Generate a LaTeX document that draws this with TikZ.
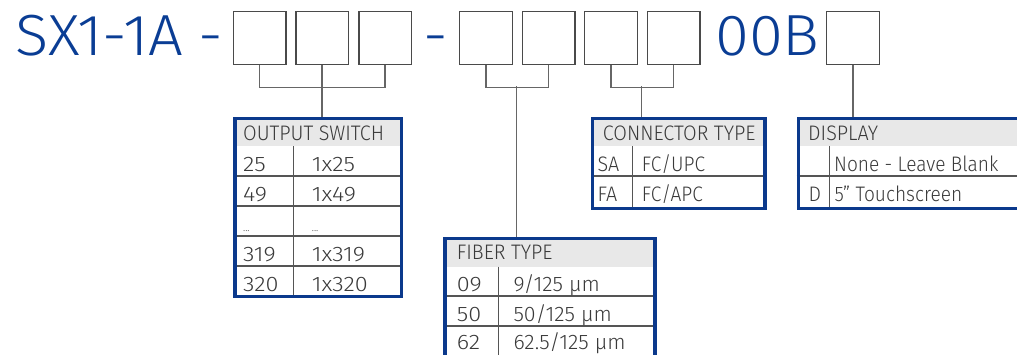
\documentclass[tikz,border=0pt]{standalone}
\usepackage{fontspec}
\setmainfont{Fira Sans Light}
\newfontfamily\titlefont{Fira Sans Light}[FakeStretch=1.06]
\newfontfamily\tabfont{Fira Sans Light}[FakeStretch=0.94]
\newfontfamily\bodyfont{Fira Sans Light}[FakeStretch=0.91]
\newfontfamily\numfont{Fira Sans Light}[FakeStretch=1.12]
\newfontfamily\fibfont{Fira Sans Light}[FakeStretch=1.02]
\definecolor{tblue}{HTML}{0A3D94}
\definecolor{fblue}{HTML}{0B398C}
\definecolor{boxgrey}{HTML}{4A4A4A}
\definecolor{cgrey}{HTML}{666666}
\definecolor{lgrey}{HTML}{555555}
\definecolor{hgrey}{HTML}{E8E8E8}
\definecolor{txtgrey}{HTML}{3A3A3A}
\begin{document}
\begin{tikzpicture}[x=1pt,y=-1pt,
  cbox/.style={draw=boxgrey, line width=1.3pt, minimum width=52.5pt, minimum height=53pt, inner sep=0pt, anchor=north west},
  titletxt/.style={text=tblue, font=\titlefont\fontsize{58}{58}\selectfont, inner sep=0pt, anchor=base west},
  ttxt/.style={text=txtgrey, font=\tabfont\fontsize{21}{21}\selectfont, inner sep=0pt, anchor=base west},
  btxt/.style={ttxt, font=\bodyfont\fontsize{21}{21}\selectfont},
  ntxt/.style={ttxt, font=\numfont\fontsize{21}{21}\selectfont},
  ftxt/.style={ttxt, font=\fibfont\fontsize{21}{21}\selectfont},
  dots/.style={text=txtgrey, font=\tabfont\fontsize{11}{11}\selectfont, inner sep=0pt, anchor=base west},
  tframe/.style={draw=fblue, line width=3.3pt, inner sep=0pt, anchor=north west},
  rowline/.style={draw=lgrey, line width=1.2pt},
  conn/.style={draw=cgrey, line width=1.5pt}]
\useasboundingbox (0,0) rectangle (1017,354);
\begin{scope}
\clip (0,0) rectangle (1017,354);
% title
\node[titletxt] (title) at (15,55) {SX1-1A};
\node[titletxt] (dash1) at (198,55) {-};
\node[titletxt] (dash2) at (423.5,55) {-};
\node[titletxt] (suffix) at (715,55) {00B};
% boxes
\node[cbox] (b1) at (232.7,11) {};
\node[cbox] (b2) at (295.3,11) {};
\node[cbox] (b3) at (358.3,11) {};
\node[cbox] (b4) at (459,11) {};
\node[cbox] (b5) at (521.7,11) {};
\node[cbox] (b6) at (584,11) {};
\node[cbox] (b7) at (646.7,11) {};
\node[cbox] (b8) at (826,11) {};

% ---------- OUTPUT SWITCH table
\fill[hgrey] (233.3,116.7) rectangle (400,146);
\foreach \y in {176,206,236,266} \draw[rowline] (233.3,\y) -- (400,\y);
\draw[rowline] (293.3,146) -- (293.3,295);
\node[tframe, minimum width=166.7pt, minimum height=178.3pt] (t1) at (233.3,116.7) {};
\node[ttxt] at (243,140) {OUTPUT SWITCH};
\node[ntxt] at (243,171.7) {25};    \node[ntxt] at (311.7,171.7) {1x25};
\node[ntxt] at (243,201.7) {49};    \node[ntxt] at (311.7,201.7) {1x49};
\node[dots] at (243,231.7) {...}; \node[dots] at (311.7,231.7) {...};
\node[ntxt] at (243,261.7) {319};   \node[ntxt] at (311.7,261.7) {1x319};
\node[ntxt] at (243,291.7) {320};   \node[ntxt] at (311.7,291.7) {1x320};

% ---------- FIBER TYPE table
\fill[hgrey] (443.3,236.7) rectangle (653.3,266.7);
\foreach \y in {296,326} \draw[rowline] (443.3,\y) -- (653.3,\y);
\draw[rowline] (498.3,266.7) -- (498.3,380);
\node[tframe, minimum width=210pt, minimum height=150pt] (t2) at (443.3,236.7) {};
\node[ttxt] at (456.7,259.3) {FIBER TYPE};
\node[ntxt] at (456.7,291) {09}; \node[ftxt] at (513.3,291) {9/125 µm};
\node[ntxt] at (456.7,321) {50}; \node[ftxt] at (513.3,321) {50/125 µm};
\node[ntxt] at (456.7,349.5) {62}; \node[ftxt] at (513.3,349.5) {62.5/125 µm};

% ---------- CONNECTOR TYPE table
\fill[hgrey] (591,116.7) rectangle (763.3,146);
\draw[rowline] (591,176) -- (763.3,176);
\draw[rowline] (632.7,146) -- (632.7,206.7);
\node[tframe, minimum width=172.3pt, minimum height=90pt] (t3) at (591,116.7) {};
\node[ttxt] at (602.7,140) {CONNECTOR TYPE};
\node[ttxt] at (597.5,171.7) {SA}; \node[btxt] at (641.7,171.7) {FC/UPC};
\node[ttxt] at (597.5,201.7) {FA}; \node[btxt] at (641.7,201.7) {FC/APC};

% ---------- DISPLAY table
\fill[hgrey] (796.7,116.7) rectangle (1030,146);
\draw[rowline] (796.7,176) -- (1030,176);
\draw[rowline] (829.3,146) -- (829.3,206.7);
\node[tframe, minimum width=233.3pt, minimum height=90pt] (t4) at (796.7,116.7) {};
\node[ttxt] at (808,140) {DISPLAY};
\node[btxt] at (834,171.7) {None - Leave Blank};
\node[ttxt] at (808.3,201.7) {D}; \node[btxt] at (834.3,201.7) {5” Touchscreen};

% ---------- connectors
\draw[conn] (b1.south) -- ++(0,22) -| (b3.south);
\draw[conn] (b2.south) -- (b2.south |- t1.north);
\draw[conn] (b4.south) -- ++(0,22) -| (b5.south);
\coordinate (fm) at (516.7,86);
\draw[conn] (fm) -- (fm |- t2.north);
\draw[conn] (b6.south) -- ++(0,22) -| (b7.south);
\coordinate (cm) at (641.7,86);
\draw[conn] (cm) -- (cm |- t3.north);
\draw[conn] (b8.south) -- (b8.south |- t4.north);
\end{scope}
\end{tikzpicture}
\end{document}
